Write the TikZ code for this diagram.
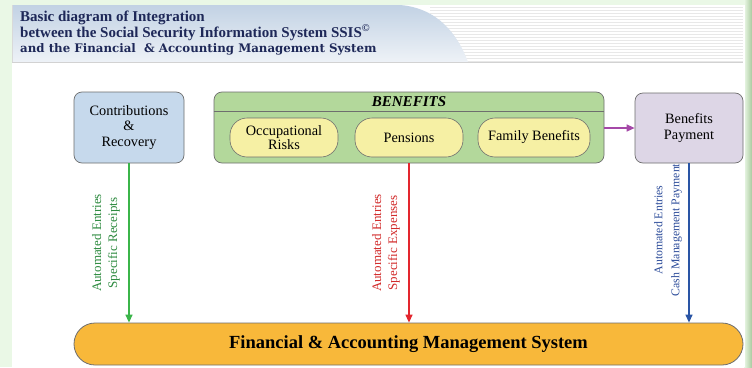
\documentclass[tikz,border=0pt]{standalone}
\usepackage{fontspec}
\setmainfont{Liberation Serif}
\newfontfamily\hdrfont{DejaVu Serif}
\usetikzlibrary{arrows.meta}
\definecolor{bgout}{HTML}{EAF8E6}
\definecolor{stripR}{HTML}{A9C99E}
\definecolor{hdrtop}{HTML}{C2D2E4}
\definecolor{hdrbot}{HTML}{EEF2F7}
\definecolor{navy}{HTML}{1E2858}
\definecolor{contribfill}{HTML}{C6D9EC}
\definecolor{benfill}{HTML}{B3D89B}
\definecolor{yelfill}{HTML}{F6F0A4}
\definecolor{payfill}{HTML}{DDD6E6}
\definecolor{finfill}{HTML}{F8B83A}
\definecolor{edgegray}{HTML}{6E6E6E}
\definecolor{garrow}{HTML}{3BB54A}
\definecolor{gtext}{HTML}{2E8B40}
\definecolor{rarrow}{HTML}{E3262E}
\definecolor{rtext}{HTML}{D22A2A}
\definecolor{barrow}{HTML}{2A55A5}
\definecolor{btext}{HTML}{2C4C9A}
\definecolor{parrow}{HTML}{A548A8}
\tikzset{
  box/.style={draw=edgegray, line width=0.7pt, rounded corners=8pt, align=center,
    font=\fontsize{14.3}{15.5}\selectfont, inner sep=2pt},
  pill/.style={draw=edgegray, line width=0.6pt, rounded corners=17pt, fill=yelfill,
    align=center, font=\fontsize{14.3}{14}\selectfont, inner sep=1pt,
    minimum height=39pt},
  flow/.style={line width=1.3pt, -{Triangle[length=8pt,width=7pt]}},
  vlabel/.style={rotate=90, align=center, font=\fontsize{13}{16}\selectfont, inner sep=0pt},
  hdr/.style={anchor=base west, text=navy, inner sep=0pt, text height=10pt, text depth=3pt}
}
\begin{document}
\begin{tikzpicture}[x=1pt,y=-1pt]
\useasboundingbox (0,0) rectangle (752,367);
% background frame
\fill[bgout] (0,0) rectangle (752,367);
\shade[left color=bgout, right color=stripR] (744,0) rectangle (752,367);
\fill[white] (12,5) rectangle (745,367);
% header stripes
\foreach \yy in {7,10,...,61} \draw[gray!18, line width=0.5pt] (430,\yy) -- (743,\yy);
% header gradient with curved edge
\shade[top color=hdrtop, bottom color=hdrbot]
  (12,5) -- (400,5) .. controls (438,8) and (458,35) .. (468,62) -- (12,62) -- cycle;
\draw[gray!35, line width=0.8pt] (12,62) -- (743,62);
\draw[gray!30, line width=0.6pt] (12.5,5) -- (12.5,62);
% header text
\node[hdr, font=\fontsize{15}{15}\selectfont\bfseries] (t1) at (20,21.5) {Basic diagram of Integration};
\node[hdr, font=\fontsize{15}{15}\selectfont\bfseries] (t2) at (20,37) {between the Social Security Information System SSIS\textsuperscript{\textcopyright}};
\node[hdr, font=\hdrfont\fontsize{11.8}{15}\selectfont\bfseries] (t3) at (20,52) {and the Financial \ \& Accounting Management System};
% nodes
\node[box, fill=contribfill, minimum width=110pt, minimum height=71pt] (contrib) at (129,127.5) {Contributions\\\&\\Recovery};
\node[box, fill=benfill, minimum width=390pt, minimum height=71pt] (benefits) at (409,127.5) {};
\draw[edgegray, line width=0.7pt] ([yshift=-20pt]benefits.north west) -- ([yshift=-20pt]benefits.north east);
\node[font=\fontsize{15}{15}\selectfont\bfseries\itshape, inner sep=0pt] (bentitle) at (409,102) {BENEFITS};
\node[pill, minimum width=108pt] (occ) at (284,137.5) {Occupational\\Risks};
\node[pill, minimum width=108pt] (pens) at (409,137.5) {Pensions};
\node[pill, minimum width=112pt] (fam) at (534,137.5) {Family Benefits};
\node[box, fill=payfill, minimum width=108pt, minimum height=70pt] (pay) at (689,128) {Benefits\\Payment};
\node[draw=edgegray, line width=0.8pt, fill=finfill, rounded corners=21pt, minimum width=669pt, minimum height=42pt,
  font=\fontsize{18.5}{18}\selectfont\bfseries] (fin) at (408.5,344) {Financial \& Accounting Management System};
% connectors
\draw[flow, parrow] (benefits.east |- pay.west) -- (pay.west);
\draw[flow, garrow] (contrib.south) -- (contrib.south |- fin.north);
\draw[flow, rarrow] (benefits.south) -- (benefits.south |- fin.north);
\draw[flow, barrow] (pay.south) -- (pay.south |- fin.north);
% labels
\node[vlabel, text=gtext] (lg) at (106,243) {Automated Entries\\Specific Receipts};
\node[vlabel, text=rtext] (lr) at (386,243) {Automated Entries\\Specific Expenses};
\node[vlabel, text=btext, font=\fontsize{11.8}{17}\selectfont] (lb) at (668,230) {Automated Entries\\Cash Management Payment};
\end{tikzpicture}
\end{document}
